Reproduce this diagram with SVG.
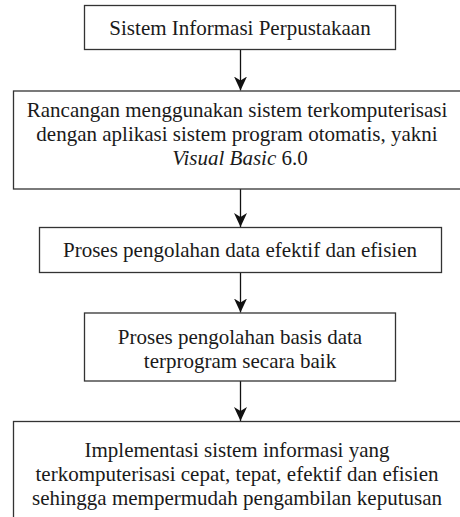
<svg xmlns="http://www.w3.org/2000/svg" width="460" height="517" viewBox="0 0 460 517">
  <style>
    .box { fill: #ffffff; stroke: #333333; stroke-width: 1.3; }
    .lbl { font-size: 21px; fill: #1a1a1a; text-anchor: middle; }
    .it { font-style: italic; }
    .wire { stroke: #111111; stroke-width: 1.3; fill: none; marker-end: url(#head); }
  </style>
  <defs>
    <marker id="head" markerUnits="userSpaceOnUse" markerWidth="14" markerHeight="14" refX="14" refY="6.5" orient="auto">
      <path d="M0,0 L14,6.5 L0,13 L4,6.5 Z" fill="#111111"/>
    </marker>
  </defs>

  <rect width="460" height="517" fill="#ffffff"/>

  <g id="connectors">
    <line class="wire" x1="240.5" y1="49.5" x2="240.5" y2="90.5"/>
    <line class="wire" x1="240.5" y1="189" x2="240.5" y2="227"/>
    <line class="wire" x1="240.5" y1="272.5" x2="240.5" y2="312.5"/>
    <line class="wire" x1="240.5" y1="381" x2="240.5" y2="421"/>
  </g>

  <g font-family="'Liberation Serif', 'DejaVu Serif', serif">
    <g id="sistem-informasi">
      <rect class="box" x="84.5" y="5.5" width="311" height="44"/>
      <text class="lbl" x="240" y="34.5">Sistem Informasi Perpustakaan</text>
    </g>

    <g id="rancangan">
      <rect class="box" x="13.5" y="91" width="460" height="98"/>
      <text class="lbl" x="237" y="116.5">Rancangan menggunakan sistem terkomputerisasi</text>
      <text class="lbl" x="237" y="140.5">dengan aplikasi sistem program otomatis, yakni</text>
      <text class="lbl" x="240" y="164.5"><tspan class="it">Visual Basic</tspan> 6.0</text>
    </g>

    <g id="proses-data">
      <rect class="box" x="39.5" y="227.5" width="402" height="45"/>
      <text class="lbl" x="240" y="256.5">Proses pengolahan data efektif dan efisien</text>
    </g>

    <g id="proses-basis-data">
      <rect class="box" x="84.5" y="313" width="311" height="68"/>
      <text class="lbl" x="240" y="344">Proses pengolahan basis data</text>
      <text class="lbl" x="240" y="368">terprogram secara baik</text>
    </g>

    <g id="implementasi">
      <rect class="box" x="13.5" y="421.5" width="460" height="120"/>
      <text class="lbl" x="237" y="457">Implementasi sistem informasi yang</text>
      <text class="lbl" x="237" y="481">terkomputerisasi cepat, tepat, efektif dan efisien</text>
      <text class="lbl" x="237" y="505">sehingga mempermudah pengambilan keputusan</text>
    </g>
  </g>
</svg>
